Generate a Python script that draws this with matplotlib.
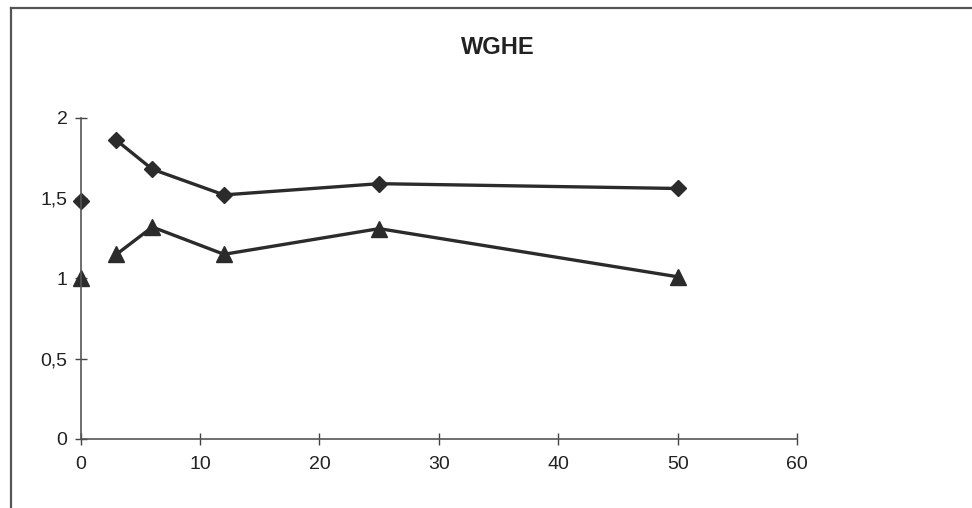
import matplotlib.pyplot as plt
from matplotlib.lines import Line2D

plt.rcParams['font.family'] = ['Liberation Sans', 'DejaVu Sans']

# data
x_iso = [0]
diamond_iso = [1.48]
triangle_iso = [1.0]

x_vals = [3, 6, 12, 25, 50]
diamond_vals = [1.86, 1.68, 1.52, 1.59, 1.56]
triangle_vals = [1.15, 1.32, 1.15, 1.31, 1.01]

x_ticks = [0, 10, 20, 30, 40, 50, 60]
y_ticks = [0, 0.5, 1, 1.5, 2]
y_ticklabels = ["0", "0,5", "1", "1,5", "2"]

col = '#2b2b2b'

fig = plt.figure(figsize=(9.72, 5.08), dpi=100)
ax = fig.add_axes([0.083, 0.136, 0.737, 0.632])

ax.plot(x_vals, diamond_vals, color=col, lw=2.4, marker='D', ms=8.5, clip_on=False)
ax.plot(x_vals, triangle_vals, color=col, lw=2.4, marker='^', ms=11, clip_on=False)
ax.plot(x_iso, diamond_iso, color=col, ls='none', marker='D', ms=8.5, clip_on=False)
ax.plot(x_iso, triangle_iso, color=col, ls='none', marker='^', ms=11, clip_on=False)

ax.set_xlim(0, 60)
ax.set_ylim(0, 2)
ax.set_xticks(x_ticks)
ax.set_yticks(y_ticks, y_ticklabels)
ax.tick_params(direction='inout', length=9, width=1, colors='#444444',
               labelcolor='#222222', labelsize=14)
ax.tick_params(axis='x', pad=8)
ax.tick_params(axis='y', pad=5)
for s in ['top', 'right']:
    ax.spines[s].set_visible(False)
for s in ['left', 'bottom']:
    ax.spines[s].set_color('#555555')
    ax.spines[s].set_linewidth(1.2)

fig.text(0.512, 0.907, "WGHE", ha='center', va='center', fontsize=17,
         fontweight='bold', color='#222222')

# scanned frame: left and top edges
fig.add_artist(Line2D([0.0115, 0.0115], [0, 0.984], transform=fig.transFigure,
                      color='#555555', lw=1.6))
fig.add_artist(Line2D([0.0115, 1.0], [0.984, 0.984], transform=fig.transFigure,
                      color='#555555', lw=1.6))

fig.savefig('out.png', dpi=100)
